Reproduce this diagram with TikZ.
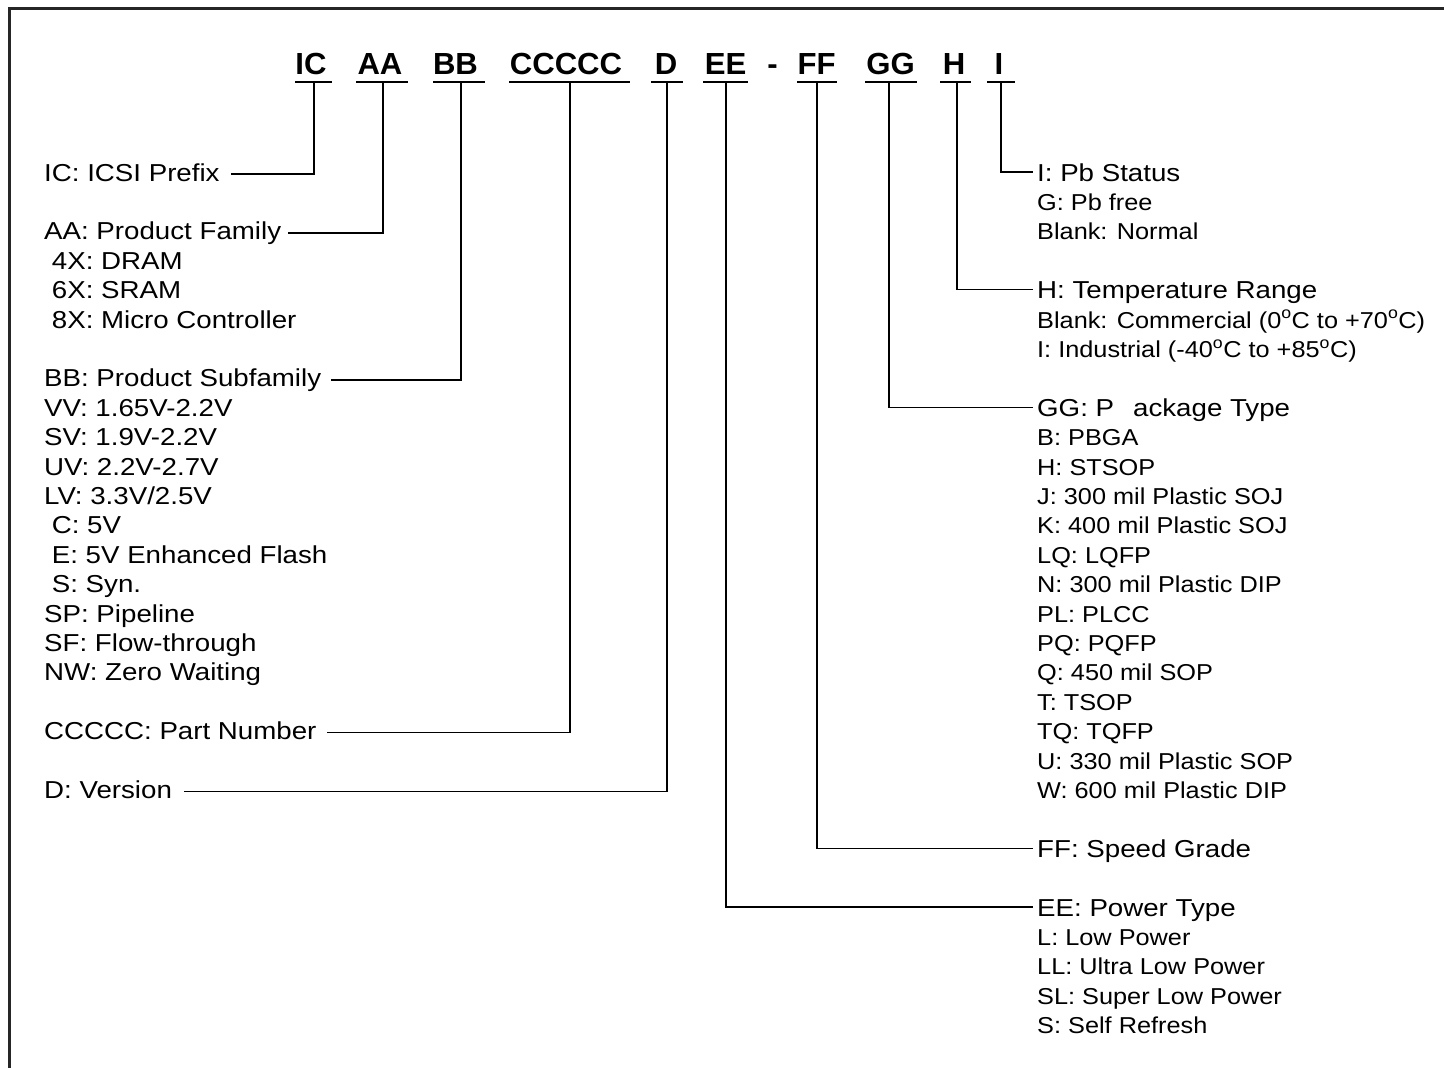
\documentclass[tikz,border=0pt]{standalone}
\usepackage{fontspec}
\setmainfont{Liberation Sans}[FakeStretch=1.13]
\newfontfamily\subfont{Liberation Sans}[FakeStretch=1.1]
\newfontfamily\hdrfont{Liberation Sans}[FakeStretch=1.02]
\newcommand{\dg}{\textsuperscript{o}}
\begin{document}
\begin{tikzpicture}[x=1pt,y=-1pt,
  every node/.style={inner sep=0pt},
  lab/.style={anchor=base west, text height=18pt, text depth=4pt, font=\fontsize{24.5}{29}\selectfont},
  rlab/.style={anchor=base west, text height=20pt, text depth=2pt, font=\fontsize{24.5}{29}\selectfont},
  sublab/.style={anchor=base west, font=\subfont\fontsize{23}{28}\selectfont},
  hdr/.style={anchor=base, font=\hdrfont\bfseries\fontsize{30.5}{34}\selectfont},
  conn/.style={line width=1.4pt, black},
  uline/.style={line width=1.6pt, black},
  frame/.style={line width=3pt, black!85}]
\useasboundingbox (0,0) rectangle (1444,1068);
\fill[white] (0,0) rectangle (1444,1068);
% frame
\draw[frame] (9,1070) -- (9,8) -- (1446,8);

% header codes
\foreach \n/\t/\cx/\ul/\ur/\vx in {IC/IC/311/295/332/314, AA/AA/380/356/408/383, BB/BB/455.5/433/485/461,
  C/CCCCC/566/509/630/570, D/D/666/651/683/667, EE/EE/725.5/703/748/726, FF/FF/816.5/797/837/817,
  GG/GG/890.5/865/917/889, H/H/954/940/971/957, I/I/999/987/1015/1001}{
  \node[hdr] (h-\n) at (\cx,74) {\t};
  \coordinate (ul-\n) at (\ul,82);
  \coordinate (ur-\n) at (\ur,82);
  \coordinate (v-\n) at (\vx,82);
  \draw[uline] (ul-\n) -- (ur-\n);
}
\node[hdr] (h-dash) at (772.5,74) {-};

% left column
\def\Y#1{181+#1*29.4}
\node[lab] (lIC) at (44,{\Y{0}}) {IC: ICSI Prefix};
\node[lab] (lAA) at (44,{\Y{2}}) {AA: Product Family};
\foreach \t [count=\i from 3] in {{\ 4X: DRAM},{\ 6X: SRAM},{\ 8X: Micro Controller}}
  \node[lab] (lAA\i) at (44,{\Y{\i}}) {\t};
\node[lab] (lBB) at (44,{\Y{7}}) {BB: Product Subfamily};
\foreach \t [count=\i from 8] in {{VV: 1.65V-2.2V},{SV: 1.9V-2.2V},{UV: 2.2V-2.7V},{LV: 3.3V/2.5V},
  {\ C: 5V},{\ E: 5V Enhanced Flash},{\ S: Syn.},{SP: Pipeline},{SF: Flow-through},{NW: Zero Waiting}}
  \node[lab] (lBB\i) at (44,{\Y{\i}}) {\t};
\node[lab] (lC) at (44,{\Y{19}}) {CCCCC: Part Number};
\node[lab] (lD) at (44,{\Y{21}}) {D: Version};

% right column
\node[rlab] (rI) at (1037,{\Y{0}}) {I: Pb Status};
\foreach \t [count=\i from 1] in {{G: Pb free},{Blank: Normal}}
  \node[sublab] (rI\i) at (1037,{\Y{\i}}) {\t};
\node[rlab] (rH) at (1037,{\Y{4}}) {H: Temperature Range};
\foreach \t [count=\i from 5] in {{Blank: Commercial (0\dg C to +70\dg C)},{I: Industrial (-40\dg C to +85\dg C)}}
  \node[sublab] (rH\i) at (1037,{\Y{\i}}) {\t};
\node[rlab] (rGG) at (1037,{\Y{8}}) {GG: P\hspace{19pt}ackage Type};
\foreach \t [count=\i from 9] in {{B: PBGA},{H: STSOP},{J: 300 mil Plastic SOJ},{K: 400 mil Plastic SOJ},
  {LQ: LQFP},{N: 300 mil Plastic DIP},{PL: PLCC},{PQ: PQFP},{Q: 450 mil SOP},{T: TSOP},{TQ: TQFP},
  {U: 330 mil Plastic SOP},{W: 600 mil Plastic DIP}}
  \node[sublab] (rGG\i) at (1037,{\Y{\i}}) {\t};
\node[rlab] (rFF) at (1037,{\Y{23}}) {FF: Speed Grade};
\node[rlab] (rEE) at (1037,{\Y{25}}) {EE: Power Type};
\foreach \t [count=\i from 26] in {{L: Low Power},{LL: Ultra Low Power},{SL: Super Low Power},{S: Self Refresh}}
  \node[sublab] (rEE\i) at (1037,{\Y{\i}}) {\t};

% connectors left
\draw[conn] (v-IC) |- ([xshift=11pt]lIC.east);
\draw[conn] (v-AA) |- ([xshift=7pt]lAA.east);
\draw[conn] (v-BB) |- ([xshift=10pt]lBB.east);
\draw[conn] (v-C) |- ([xshift=10pt]lC.east);
\draw[conn] (v-D) |- ([xshift=12pt]lD.east);
% connectors right
\draw[conn] (v-I) |- ([xshift=-4pt]rI.west);
\draw[conn] (v-H) |- ([xshift=-4pt]rH.west);
\draw[conn] (v-GG) |- ([xshift=-4pt]rGG.west);
\draw[conn] (v-FF) |- ([xshift=-4pt]rFF.west);
\draw[conn] (v-EE) |- ([xshift=-4pt]rEE.west);
\end{tikzpicture}
\end{document}
